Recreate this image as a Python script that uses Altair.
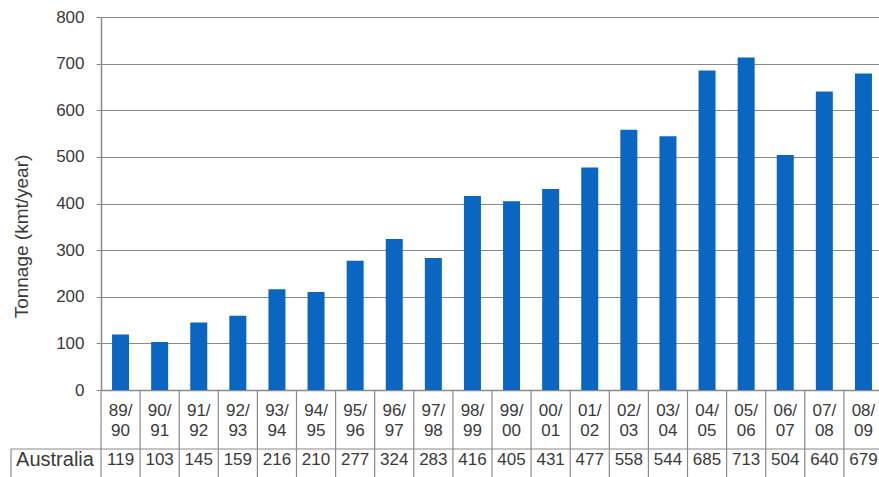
import altair as alt
import pandas as pd

years = ["89/90", "90/91", "91/92", "92/93", "93/94", "94/95", "95/96", "96/97",
         "97/98", "98/99", "99/00", "00/01", "01/02", "02/03", "03/04", "04/05",
         "05/06", "06/07", "07/08", "08/09"]
tonnage = [119, 103, 145, 159, 216, 210, 277, 324, 283, 416, 405, 431, 477,
           558, 544, 685, 713, 504, 640, 679]
y_ticks = [0, 100, 200, 300, 400, 500, 600, 700, 800]
row_label = "Australia"

df = pd.DataFrame({"year": years, "tonnage": tonnage})
df["top"] = [y.split("/")[0] + "/" for y in years]
df["bottom"] = [y.split("/")[1] for y in years]

FONT = "Liberation Sans"
TXT = "#3a3a3a"
LINE = "#8a8a8a"
W, H = 778, 373

xscale = alt.Scale(domain=years, range=[0, 782], paddingInner=0, paddingOuter=0)
x = alt.X("year:N", scale=xscale, sort=years,
          axis=alt.Axis(labels=False, ticks=False, title=None, domain=True,
                        domainColor=LINE, domainWidth=1.5))

base = alt.Chart(df)

bars = base.mark_bar(color="#0b66c2", width=alt.RelativeBandSize(0.435)).encode(
    x=x,
    y=alt.Y("tonnage:Q", scale=alt.Scale(domain=[0, 800], nice=False),
            axis=alt.Axis(values=y_ticks, title="Tonnage (kmt/year)",
                          grid=True, gridColor=LINE, gridWidth=1.2,
                          domainColor=LINE, domainWidth=1.5,
                          tickColor=LINE, tickSize=5, labelPadding=12,
                          labelFontSize=17, labelColor=TXT, labelFont=FONT,
                          titleFont=FONT, titleFontSize=19, titleFontWeight="normal",
                          titleColor=TXT, titlePadding=24, titleY=219)),
)

vlines = base.mark_rule(color=LINE, strokeWidth=1.2).encode(
    x=alt.X("year:N", scale=xscale, sort=years, bandPosition=0),
    y=alt.value(H), y2=alt.value(H + 90),
)

top_txt = base.mark_text(font=FONT, fontSize=17, color=TXT).encode(
    x=alt.X("year:N", scale=xscale, sort=years), y=alt.value(H + 21), text="top:N")
bot_txt = base.mark_text(font=FONT, fontSize=17, color=TXT).encode(
    x=alt.X("year:N", scale=xscale, sort=years), y=alt.value(H + 41), text="bottom:N")
val_txt = base.mark_text(font=FONT, fontSize=17, color=TXT).encode(
    x=alt.X("year:N", scale=xscale, sort=years), y=alt.value(H + 70), text="tonnage:Q")

hline = alt.Chart(pd.DataFrame({"k": [0]})).mark_rule(color=LINE, strokeWidth=1.2).encode(
    x=alt.value(-90), x2=alt.value(782), y=alt.value(H + 59))
boxline = alt.Chart(pd.DataFrame({"k": [0]})).mark_rule(color=LINE, strokeWidth=1.2).encode(
    x=alt.value(-90), y=alt.value(H + 59), y2=alt.value(H + 90))
lab = alt.Chart(pd.DataFrame({"t": [row_label]})).mark_text(
    font=FONT, fontSize=20, color=TXT).encode(
    x=alt.value(-46), y=alt.value(H + 70), text="t:N")

chart = alt.layer(bars, vlines, top_txt, bot_txt, val_txt, hline, boxline, lab).properties(
    width=W, height=H,
    autosize=alt.AutoSizeParams(type="none"),
    padding={"left": 101, "top": 17, "right": 0, "bottom": 87},
).configure_view(stroke=None).configure(background="white")

chart.save("out.html", embed_options={"renderer": "svg", "actions": False})
